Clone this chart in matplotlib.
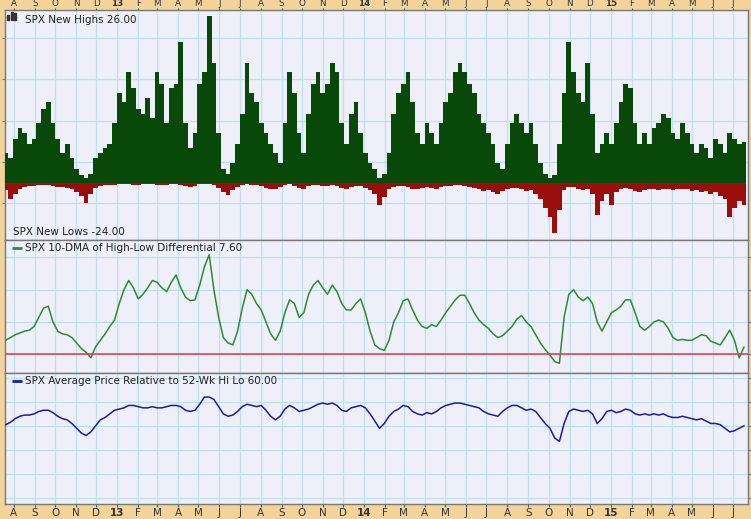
import numpy as np
import pandas as pd
import matplotlib
matplotlib.use("Agg")
import matplotlib.pyplot as plt
from matplotlib.patches import Rectangle

# weekly readings, Jul 2012 .. Jul 2015
weeks = pd.date_range("2012-07-20", periods=157, freq="W-FRI")

new_highs = [19, 16, 28, 35, 32, 25, 28, 38, 47, 51, 38, 28, 19, 25, 16, 9, 5, 3, 6, 16,
             19, 22, 25, 38, 57, 51, 70, 60, 47, 44, 54, 41, 70, 63, 38, 60, 63, 89, 38, 22,
             32, 63, 70, 106, 76, 32, 9, 6, 13, 25, 44, 76, 57, 51, 38, 32, 25, 19, 13, 38,
             70, 57, 32, 19, 44, 63, 70, 57, 63, 76, 70, 38, 25, 44, 51, 32, 19, 13, 9, 3,
             6, 19, 44, 57, 63, 70, 51, 32, 25, 38, 32, 25, 38, 51, 57, 70, 76, 70, 63, 57,
             44, 38, 32, 25, 13, 9, 25, 38, 44, 38, 32, 38, 25, 13, 6, 3, 5, 25, 57, 89,
             70, 57, 51, 76, 44, 19, 25, 32, 25, 38, 51, 63, 60, 38, 25, 32, 25, 35, 38, 44,
             41, 32, 28, 38, 32, 25, 19, 25, 22, 16, 28, 25, 19, 32, 28, 25, 26]

new_lows = [-8, -18, -12, -6, -4, -3, -3, -2, -2, -2, -3, -4, -4, -5, -6, -10, -14, -22, -12, -5,
            -3, -2, -2, -2, -1, -1, -1, -2, -2, -1, -1, -1, -2, -2, -2, -1, -1, -2, -3, -4,
            -3, -1, -1, -1, -2, -5, -10, -13, -8, -4, -2, -1, -2, -2, -3, -5, -7, -6, -4, -2,
            -1, -3, -5, -6, -3, -2, -2, -3, -3, -2, -3, -5, -6, -4, -3, -3, -5, -8, -12, -24,
            -15, -7, -4, -3, -3, -4, -6, -7, -5, -4, -5, -6, -4, -3, -3, -2, -2, -3, -4, -5,
            -7, -9, -8, -10, -12, -9, -6, -5, -5, -7, -9, -8, -12, -18, -28, -38, -55, -30, -8, -4,
            -4, -6, -8, -7, -12, -35, -20, -12, -24, -10, -6, -5, -6, -9, -10, -8, -7, -6, -8, -7,
            -6, -8, -7, -6, -7, -9, -8, -10, -9, -12, -10, -14, -18, -37, -28, -20, -24]

hl_dma = [15, 18, 21, 23, 25, 26, 30, 40, 50, 52, 35, 25, 22, 21, 18, 12, 6, 2, -4, 8,
          15, 22, 30, 37, 55, 70, 80, 72, 60, 65, 72, 80, 78, 72, 68, 78, 86, 72, 62, 58,
          59, 75, 95, 108, 70, 40, 18, 12, 10, 25, 50, 70, 65, 55, 48, 35, 22, 15, 25, 45,
          59, 55, 40, 45, 65, 75, 80, 72, 65, 75, 68, 55, 48, 48, 55, 60, 45, 25, 10, 6,
          4, 15, 35, 45, 58, 60, 48, 37, 30, 28, 32, 30, 37, 45, 52, 59, 64, 64, 55, 45,
          37, 32, 28, 22, 18, 20, 25, 30, 38, 42, 35, 30, 21, 12, 5, -1, -8, -10, 40, 65,
          70, 62, 58, 62, 55, 35, 25, 35, 45, 48, 52, 59, 59, 45, 30, 26, 30, 35, 37, 35,
          28, 18, 15, 16, 15, 15, 18, 21, 20, 14, 12, 10, 18, 26, 15, -4, 7.6]

rel_hilo = [61, 63, 66, 68, 69, 69, 70, 72, 73, 73, 71, 68, 66, 65, 62, 58, 54, 52, 55, 60,
            65, 67, 70, 73, 74, 75, 77, 77, 76, 75, 75, 76, 75, 75, 76, 77, 77, 76, 73, 72,
            73, 78, 84, 84, 82, 76, 70, 68, 69, 72, 76, 78, 77, 76, 77, 73, 68, 65, 68, 74,
            77, 75, 72, 73, 74, 76, 78, 79, 78, 79, 77, 73, 72, 75, 76, 77, 75, 70, 64, 58,
            62, 68, 72, 74, 77, 76, 72, 70, 69, 71, 70, 72, 75, 77, 78, 79, 79, 78, 77, 76,
            75, 72, 70, 69, 68, 72, 75, 77, 77, 75, 73, 74, 72, 67, 62, 58, 50, 47, 62, 72,
            74, 73, 72, 73, 70, 62, 66, 72, 73, 71, 72, 74, 73, 70, 69, 70, 69, 70, 69, 70,
            68, 67, 67, 68, 67, 66, 65, 66, 64, 62, 62, 61, 58, 55, 56, 58, 60]

month_starts = pd.date_range("2012-08-01", "2015-07-01", freq="MS")
month_labels = [d.strftime("%y") if d.month == 1 else d.strftime("%b")[0] for d in month_starts]

TAN = "#f2d49b"
PANEL = "#eeeff8"
GRID = "#bde2ee"
FS = 7.5

W, H = 751, 519
fig = plt.figure(figsize=(W / 100, H / 100), dpi=100, facecolor=TAN)

def box(y0, y1):
    # pixel rows -> figure fraction
    return [5 / W, (H - y1) / H, 743 / W, (y1 - y0) / H]

ax1 = fig.add_axes(box(10, 240))
ax2 = fig.add_axes(box(240, 373), sharex=ax1)
ax3 = fig.add_axes(box(373, 504), sharex=ax1)

xlim = (pd.Timestamp("2012-07-19"), pd.Timestamp("2015-07-23"))

for ax in (ax1, ax2, ax3):
    ax.set_facecolor(PANEL)
    ax.set_xticks(month_starts)
    ax.grid(True, color=GRID, linewidth=0.9)
    ax.set_axisbelow(True)
    ax.tick_params(axis="x", length=0, labelbottom=False)
    ax.tick_params(axis="y", which="both", left=False, labelleft=False,
                   right=True, labelright=False, direction="out", length=2, color="#777777")
    for s in ax.spines.values():
        s.set_color("#777777")
        s.set_linewidth(1)
    ax.set_xlim(*xlim)

# top panel: new highs up, new lows down (own scale)
ax1.bar(weeks, new_highs, width=7, color="#084808", linewidth=0, zorder=3)
ax1.set_ylim(-36, 109.5)
ax1.set_yticks([-12.7, 13.3, 39.2, 65.8, 91.8])
ax1b = ax1.twinx()
ax1b.bar(weeks, new_lows, width=7, color="#990d0d", linewidth=0, zorder=3)
ax1b.set_ylim(-63, 192)
ax1b.axis("off")

ax1.text(20 / 743, 1 - 10 / 230, "SPX New Highs 26.00", transform=ax1.transAxes,
         fontsize=FS, color="#222222", va="center", ha="left", zorder=5)
ax1.text(8 / 743, 8 / 230, "SPX New Lows -24.00", transform=ax1.transAxes,
         fontsize=FS, color="#222222", va="center", ha="left", zorder=5)
# little bar-chart icon
for bx, bh in zip([7, 10.5, 14], [5, 8, 7]):
    fig.patches.append(Rectangle((bx / W, (H - 20) / H), 2 / W, bh / H,
                                 transform=fig.transFigure, color="#333333"))

# middle panel
ax2.plot(weeks, hl_dma, color="#2e8b2e", linewidth=1.1, zorder=3)
ax2.axhline(0, color="#e0405c", linewidth=1.2, zorder=3)
ax2.set_ylim(-20.5, 124)
ax2.set_yticks([0, 35, 70, 105])
ax2.plot([7 / 743, 17 / 743], [1 - 8 / 133] * 2, transform=ax2.transAxes,
         color="#2e8b2e", linewidth=2, solid_capstyle="butt")
ax2.text(20 / 743, 1 - 8 / 133, "SPX 10-DMA of High-Low Differential 7.60",
         transform=ax2.transAxes, fontsize=FS, color="#222222", va="center", ha="left")

# bottom panel
ax3.plot(weeks, rel_hilo, color="#1c1c9c", linewidth=1.1, zorder=3)
ax3.set_ylim(-5, 104)
ax3.set_yticks([0, 20, 40, 60, 80, 100])
ax3.plot([7 / 743, 17 / 743], [1 - 8 / 131] * 2, transform=ax3.transAxes,
         color="#1c1c9c", linewidth=2, solid_capstyle="butt")
ax3.text(20 / 743, 1 - 8 / 131, "SPX Average Price Relative to 52-Wk Hi Lo 60.00",
         transform=ax3.transAxes, fontsize=FS, color="#222222", va="center", ha="left")

# month labels top and bottom
ax1.tick_params(axis="x", labeltop=True, top=True, length=1.5, pad=0.3, labelsize=6.3,
                labelcolor="#333333", color="#555555")
ax3.tick_params(axis="x", labelbottom=True, bottom=True, length=2, pad=1, labelsize=FS,
                labelcolor="#333333", color="#555555")
ax1.set_xticklabels(month_labels)
ax3.set_xticklabels(month_labels)
for ax in (ax1, ax3):
    for t, d in zip(ax.get_xticklabels(), month_starts):
        if d.month == 1:
            t.set_fontweight("bold")

fig.savefig("out.png", dpi=100, facecolor=TAN)
